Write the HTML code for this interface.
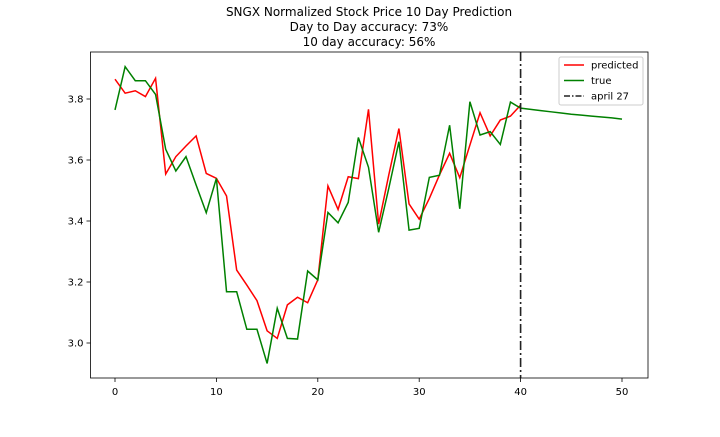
<!DOCTYPE html>
<html><head><meta charset="utf-8"><style>
body{margin:0;background:#fff;width:720px;height:432px;overflow:hidden;font-family:"Liberation Sans","DejaVu Sans",sans-serif}
</style></head><body>
<svg id="chart" width="720" height="432" xmlns="http://www.w3.org/2000/svg" font-family="DejaVu Sans, Liberation Sans, sans-serif">
<g id="title" font-size="12" text-anchor="middle" fill="#000">
<text x="369" y="16">SNGX Normalized Stock Price 10 Day Prediction</text>
<text x="369" y="31">Day to Day accuracy: 73%</text>
<text x="369" y="46">10 day accuracy: 56%</text>
</g>
<g id="plot"></g>
</svg>
<script>
const predicted=[3.865,3.819,3.827,3.808,3.868,3.554,3.611,3.646,3.679,3.556,3.54,3.482,3.239,3.19,3.139,3.04,3.015,3.125,3.15,3.132,3.207,3.515,3.438,3.545,3.539,3.766,3.39,3.551,3.703,3.456,3.406,3.474,3.551,3.622,3.542,3.649,3.755,3.679,3.731,3.744,3.78];
const trueVals=[3.764,3.906,3.86,3.86,3.815,3.635,3.564,3.611,3.518,3.427,3.54,3.168,3.168,3.045,3.045,2.933,3.114,3.015,3.013,3.236,3.207,3.428,3.394,3.461,3.674,3.576,3.363,3.507,3.66,3.37,3.376,3.543,3.55,3.714,3.44,3.791,3.682,3.693,3.651,3.79,3.77,3.766,3.762,3.758,3.754,3.75,3.747,3.744,3.741,3.738,3.734];
const xTicks=[0,10,20,30,40,50];
const yTicks=[3.0,3.2,3.4,3.6,3.8];
const markerDay=40;

const NS="http://www.w3.org/2000/svg";
const g=document.getElementById('plot');
const L=90.5,R=648,T=52,B=378;
const sx=v=>115+v*10.14;
const sy=v=>99+(3.8-v)*305;
function el(t,a){const e=document.createElementNS(NS,t);for(const k in a)e.setAttribute(k,a[k]);g.appendChild(e);return e;}
xTicks.forEach(t=>{
  const tk=el('line',{x1:sx(t),x2:sx(t),y1:B,y2:B+4,stroke:'#000','stroke-width':0.8});
  
  
  const tx=el('text',{x:sx(t),y:B+17,'font-size':10,'text-anchor':'middle'});tx.textContent=t;
  
  
});
yTicks.forEach(t=>{
  const tk=el('line',{x1:L-4,x2:L,y1:sy(t),y2:sy(t),stroke:'#000','stroke-width':0.8});
  
  
  const tx=el('text',{x:L-7,y:sy(t)+3.5,'font-size':10,'text-anchor':'end'});tx.textContent=t.toFixed(1);
  
  
});
const pts=a=>a.map((v,i)=>sx(i)+','+sy(v)).join(' ');
const pl=el('polyline',{points:pts(predicted),fill:'none',stroke:'red','stroke-width':1.5});


const tl=el('polyline',{points:pts(trueVals),fill:'none',stroke:'green','stroke-width':1.5});


const vl=el('line',{x1:sx(markerDay),x2:sx(markerDay),y1:T,y2:B,stroke:'#222','stroke-width':1.6,'stroke-dasharray':'9,3,2,3'});


const fr=el('rect',{x:L,y:T,width:R-L,height:B-T,fill:'none',stroke:'#000','stroke-width':0.8});


const lg=el('rect',{x:559,y:57,width:84,height:48,fill:'#fff',stroke:'#ccc','stroke-width':1,rx:2});


[['predicted','red',null],['true','green',null],['april 27','#222','9,3,2,3']].forEach((e,i)=>{
  const y=65+i*15.5;
  const ln=el('line',{x1:564,x2:584,y1:y,y2:y,stroke:e[1],'stroke-width':1.6});
  if(e[2])ln.setAttribute('stroke-dasharray','6,2,1.5,2');
  
  
  const tx=el('text',{x:591,y:y+3.5,'font-size':10});tx.textContent=e[0];
  
  
});
</script>
</body></html>
